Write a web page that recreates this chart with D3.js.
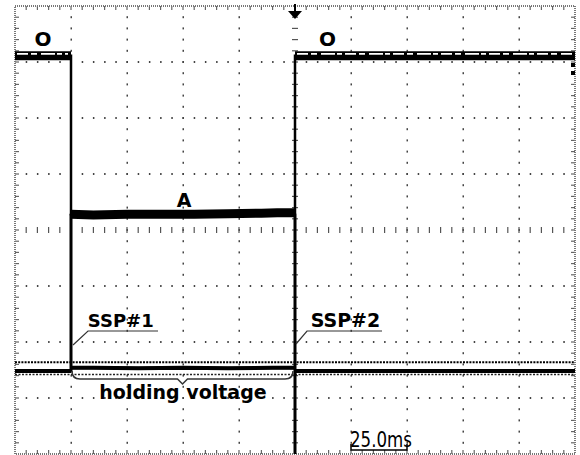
<!DOCTYPE html>
<html>
<head>
<meta charset="utf-8">
<script src="https://cdn.jsdelivr.net/npm/d3@7"></script>
<style>
  body { margin: 0; background: #fff; }
  svg { display: block; }
</style>
</head>
<body>
<div id="canvas"></div>
<script>
// scope settings: 10 divisions of 25 ms, 8 vertical divisions, trigger at t = 0
var timeDomain = [-125, 125];
var divDomain = [-4, 4];
var gridX = [-100, -75, -50, -25, 25, 50, 75, 100];
var gridY = [-3, -2, -1, 1, 2, 3];

// trace 1 (upper, "O" / "A" levels), time in ms, level in divisions
var trace1T = [-125, -110, -100, -100, -90, -75, -60, -45, -30, -15, -8, 0, 0, 40, 80, 125];
var trace1V = [3.11, 3.11, 3.11, 0.28, 0.27, 0.28, 0.28, 0.28, 0.29, 0.30, 0.31, 0.31, 3.11, 3.11, 3.11, 3.11];

// trace 2 (lower, SSP pulses and holding voltage)
var trace2T = [-125, -100, -100, -100, -90, -70, -50, -30, -10, 0, 0, 0, 0, 50, 125];
var trace2V = [-2.52, -2.52, 0.29, -2.46, -2.46, -2.47, -2.46, -2.47, -2.46, -2.46, 0.29, -4, -2.52, -2.52, -2.52];

// dotted reference level
var refLevel = -2.36;
var scaleLabel = "25.0ms";

var W = 580, H = 455;
var svg = d3.select("#canvas").append("svg")
  .attr("width", W)
  .attr("height", H);

var x = d3.scaleLinear().domain(timeDomain).range([15, 575]);
var y = d3.scaleLinear().domain(divDomain).range([454, 6]);

var minorT = d3.range(timeDomain[0], timeDomain[1] + 0.01, 5);
var minorV = d3.range(divDomain[0], divDomain[1] + 0.01, 0.2);

// dotted grid
var grid = svg.append("g").attr("fill", "#444");
gridX.forEach(function (t) {
  grid.selectAll(null).data(minorV.slice(1, -1)).enter().append("rect")
    .attr("x", x(t) - 0.5).attr("y", function (d) { return y(d) - 1; })
    .attr("width", 1.5).attr("height", 2);
});
gridY.forEach(function (v) {
  grid.selectAll(null).data(minorT.slice(1, -1)).enter().append("rect")
    .attr("x", function (d) { return x(d) - 0.5; }).attr("y", y(v) - 1)
    .attr("width", 1.5).attr("height", 2);
});

// center axes with ticks
var axes = svg.append("g").attr("stroke", "#555").attr("stroke-width", 1.2);
axes.selectAll(null).data(minorT.slice(1, -1)).enter().append("line")
  .attr("x1", function (d) { return x(d); }).attr("x2", function (d) { return x(d); })
  .attr("y1", y(0) - 3).attr("y2", y(0) + 3);
axes.selectAll(null).data(minorV.slice(1, -1)).enter().append("line")
  .attr("y1", function (d) { return y(d); }).attr("y2", function (d) { return y(d); })
  .attr("x1", x(0) - 3).attr("x2", x(0) + 3);

// border ticks
var edge = svg.append("g").attr("stroke", "#666").attr("stroke-width", 1.2);
minorT.slice(1, -1).forEach(function (t) {
  edge.append("line").attr("x1", x(t)).attr("x2", x(t)).attr("y1", y(4)).attr("y2", y(4) + 4);
  edge.append("line").attr("x1", x(t)).attr("x2", x(t)).attr("y1", y(-4)).attr("y2", y(-4) - 4);
});
minorV.slice(1, -1).forEach(function (v) {
  edge.append("line").attr("y1", y(v)).attr("y2", y(v)).attr("x1", x(-125)).attr("x2", x(-125) + 4);
  edge.append("line").attr("y1", y(v)).attr("y2", y(v)).attr("x1", x(125)).attr("x2", x(125) - 4);
});

// stippled frame
svg.append("rect")
  .attr("x", x(-125)).attr("y", y(4))
  .attr("width", x(125) - x(-125)).attr("height", y(-4) - y(4))
  .attr("fill", "none").attr("stroke", "#777").attr("stroke-width", 2)
  .attr("stroke-dasharray", "1,1");

// reference dotted lines near trace 2
svg.append("line")
  .attr("x1", x(-125)).attr("x2", x(125)).attr("y1", y(refLevel)).attr("y2", y(refLevel))
  .attr("stroke", "#000").attr("stroke-width", 2).attr("stroke-dasharray", "2,1.2");
svg.append("line")
  .attr("x1", x(-125)).attr("x2", x(125)).attr("y1", y(-2.58)).attr("y2", y(-2.58))
  .attr("stroke", "#222").attr("stroke-width", 1.5).attr("stroke-dasharray", "2,1.5");

var line = d3.line()
  .x(function (d) { return x(d[0]); })
  .y(function (d) { return y(d[1]); });

var trace1 = d3.zip(trace1T, trace1V);
var trace2 = d3.zip(trace2T, trace2V);

// horizontal runs of a trace (vertical edges left out)
function runs(pts) {
  var out = [], cur = [pts[0]];
  for (var i = 1; i < pts.length; i++) {
    if (pts[i][0] === pts[i - 1][0]) {
      if (cur.length > 1) out.push(cur);
      cur = [pts[i]];
    } else {
      cur.push(pts[i]);
    }
  }
  if (cur.length > 1) out.push(cur);
  return out;
}

// trace 2
svg.append("path").datum(trace2)
  .attr("d", line).attr("fill", "none")
  .attr("stroke", "#000").attr("stroke-width", 3);
svg.selectAll(null).data(runs(trace2)).enter().append("path")
  .attr("d", line).attr("fill", "none")
  .attr("stroke", "#000").attr("stroke-width", 4);

// trace 1: edges thin, levels as thick noisy band
svg.append("path").datum(trace1)
  .attr("d", line).attr("fill", "none")
  .attr("stroke", "#000").attr("stroke-width", 2.5);
svg.selectAll(null).data(runs(trace1)).enter().append("path")
  .attr("d", line).attr("fill", "none")
  .attr("stroke", "#000").attr("stroke-width", 9)
  .attr("stroke-linecap", "butt");
// white streaks inside the high level band
[[-125, -100], [0, 125]].forEach(function (seg) {
  svg.append("line")
    .attr("x1", x(seg[0]) + 2).attr("x2", x(seg[1]) - 3)
    .attr("y1", y(3.11) - 2).attr("y2", y(3.11) - 2)
    .attr("stroke", "#fff").attr("stroke-width", 1.6)
    .attr("stroke-dasharray", "11,3,6,4,14,2,5,3");
});

// trigger arrow
svg.append("line").attr("x1", x(0)).attr("x2", x(0)).attr("y1", 4).attr("y2", 12)
  .attr("stroke", "#000").attr("stroke-width", 2);
svg.append("path")
  .attr("d", "M" + (x(0) - 7) + ",11 L" + (x(0) + 7) + ",11 L" + x(0) + ",19 Z")
  .attr("fill", "#000");

// channel markers on right edge
svg.append("rect").attr("x", x(125) - 4).attr("y", 63).attr("width", 4).attr("height", 4).attr("fill", "#000");
svg.append("rect").attr("x", x(125) - 4).attr("y", 71).attr("width", 4).attr("height", 4).attr("fill", "#000");

// labels
function label(txt, px, py, size, anchor) {
  return svg.append("text").text(txt)
    .attr("x", px).attr("y", py)
    .attr("font-family", "DejaVu Sans, Verdana, sans-serif").attr("font-weight", "bold")
    .attr("font-size", size).attr("text-anchor", anchor || "start")
    .attr("fill", "#000");
}
label("O", x(-112.5), 46, 20, "middle");
label("O", x(14.5), 46, 20, "middle");
label("A", x(-49.5), 207, 19, "middle");
label("SSP#1", x(-92.5), 327, 18);
label("SSP#2", x(7), 327, 19);
label("holding voltage", x(-50), 399, 19, "middle");

// SSP callouts
var ann = svg.append("g").attr("fill", "none").attr("stroke", "#333").attr("stroke-width", 1.2);
ann.append("path").attr("d", "M" + (x(-100) + 2) + ",345 L" + (x(-100) + 17) + ",331 H" + (x(-100) + 87));
ann.append("path").attr("d", "M" + (x(0) + 1) + ",344 L" + (x(0) + 12) + ",331 H" + (x(0) + 87));

// brace under holding voltage
var bx0 = x(-100) + 1, bx1 = x(0) - 2, bm = (bx0 + bx1) / 2;
ann.append("path")
  .attr("d", "M" + bx0 + ",371 Q" + bx0 + ",379 " + (bx0 + 8) + ",379 H" + (bm - 5) +
    " L" + bm + ",384 L" + (bm + 5) + ",379 H" + (bx1 - 8) + " Q" + bx1 + ",379 " + bx1 + ",371")
  .attr("stroke-width", 1.5);

// time scale marker (one division)
svg.append("text").text(scaleLabel)
  .attr("x", x(25) - 1).attr("y", 447)
  .attr("font-family", "DejaVu Sans, sans-serif").attr("font-size", 21)
  .attr("textLength", 62).attr("lengthAdjust", "spacingAndGlyphs")
  .attr("fill", "#000");
svg.append("path")
  .attr("d", "M" + x(25) + ",444 V450 H" + x(50) + " V444")
  .attr("fill", "none").attr("stroke", "#000").attr("stroke-width", 1.5);
</script>
</body>
</html>
